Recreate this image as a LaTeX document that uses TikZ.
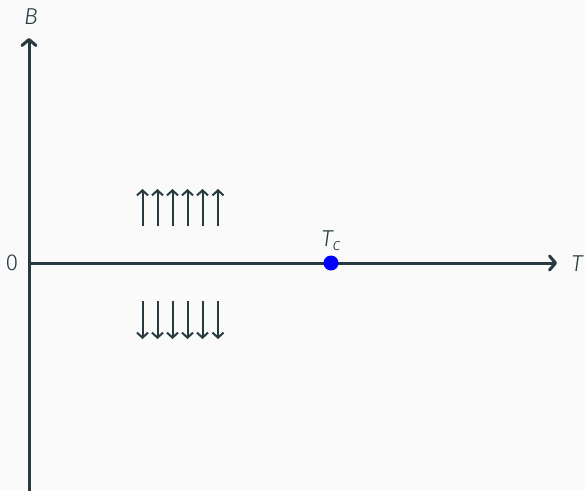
\documentclass[tikz,border=0pt]{standalone}
\usepackage{fontspec}
\setmainfont{Fira Sans Light}
\usetikzlibrary{arrows.meta}
\definecolor{ax}{HTML}{263A40}
\definecolor{bg}{HTML}{FAFAFA}
\begin{document}
\begin{tikzpicture}[x=1pt,y=-1pt,
  axis/.style={draw=ax,line width=3pt,-{Straight Barb[length=6pt,width=14pt,line cap=round,line join=round]}},
  spin/.style={draw=ax,line width=2pt,-{Straight Barb[length=5pt,width=11pt]}},
  lbl/.style={text=ax,font=\fontsize{23}{26}\selectfont,inner sep=0pt}]
\fill[bg] (0,0) rectangle (585,490);
\useasboundingbox (0,0) rectangle (585,490);
\coordinate (o) at (29,263);
\coordinate (ybot) at (29,492);
\coordinate (ytop) at (29,38);
\coordinate (xend) at (557,263);
\draw[axis] (ybot) -- (ytop);
\draw[axis] (o) -- (xend);
\node[lbl] (B) at (31,17) {\itshape B};
\node[lbl] (T) at (577,264) {\itshape T};
\node[lbl] (zero) at (12,263) {0};
\node[circle,fill=blue,minimum size=15pt,inner sep=0pt] (tc) at (331,263) {};
\node[lbl] (tcl) at (331,241) {\itshape T\raisebox{-4pt}{\fontsize{17}{19}\selectfont c}};
\foreach \i/\x in {1/142.5,2/157.5,3/172.5,4/187.5,5/202.5,6/218}{
  \coordinate (u\i a) at (\x,226);
  \coordinate (u\i b) at (\x,189);
  \coordinate (d\i a) at (\x,301);
  \coordinate (d\i b) at (\x,339);
  \draw[spin] (u\i a) -- (u\i b);
  \draw[spin] (d\i a) -- (d\i b);
}
\end{tikzpicture}
\end{document}
